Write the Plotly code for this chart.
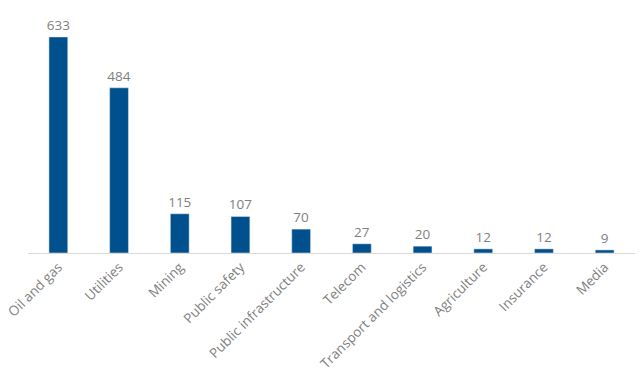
import plotly.graph_objects as go

categories = ["Oil and gas", "Utilities", "Mining", "Public safety", "Public infrastructure",
              "Telecom", "Transport and logistics", "Agriculture", "Insurance", "Media"]
values = [633, 484, 115, 107, 70, 27, 20, 12, 12, 9]

fig = go.Figure(go.Bar(
    x=categories, y=values,
    marker_color="#00508E",
    text=[str(v) for v in values], textposition="outside",
    textfont=dict(family="Open Sans", size=13.5, color="#7F7F7F"),
    constraintext="none",
    cliponaxis=False,
))
fig.update_layout(
    width=642, height=378,
    margin=dict(l=28, r=7, t=10, b=125),
    plot_bgcolor="white", paper_bgcolor="white",
    bargap=0.69, showlegend=False,
    xaxis=dict(tickangle=-45, showline=True, linecolor="#D9D9D9", linewidth=1,
               tickfont=dict(family="Open Sans", size=13.5, color="#7F7F7F"),
               ticks="", showgrid=False, automargin=False),
    yaxis=dict(range=[0, 712], visible=False, showgrid=False, automargin=False),
)
fig.write_html("out.html", config={"displayModeBar": False},
               post_script="document.body.style.margin='0';document.body.style.overflow='hidden';")
